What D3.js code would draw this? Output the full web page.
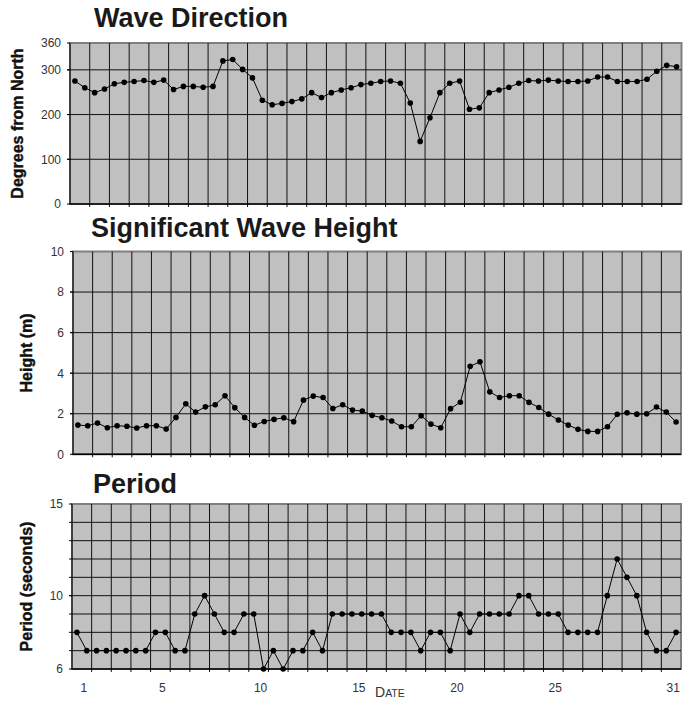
<!DOCTYPE html>
<html>
<head>
<meta charset="utf-8">
<script src="https://cdn.jsdelivr.net/npm/d3@7"></script>
<style>
  body { margin: 0; background: #fff; }
  text { font-family: "Liberation Sans", Arial, sans-serif; }
</style>
</head>
<body>
<div id="chart"></div>
<script>
// two readings a day (00h and 12h) over one month
const days = d3.range(1, 32);
const readings = days.flatMap(d => [d, d + 0.5]);

const waveDirection = [
  275, 260, 249, 257, 269, 272, 274, 276, 272, 277,
  256, 263, 263, 261, 263, 320, 323, 301, 282, 232,
  222, 225, 229, 235, 249, 238, 249, 255, 260, 267,
  270, 274, 275, 270, 226, 140, 193, 249, 270, 275,
  212, 215, 249, 255, 261, 270, 276, 275, 277, 275,
  274, 274, 275, 284, 284, 274, 274, 274, 279, 297,
  310, 307
];
const waveHeight = [
  1.44, 1.41, 1.54, 1.31, 1.41, 1.38, 1.30, 1.41, 1.41, 1.25,
  1.82, 2.49, 2.08, 2.34, 2.44, 2.89, 2.30, 1.82, 1.43, 1.62,
  1.72, 1.80, 1.61, 2.67, 2.87, 2.80, 2.26, 2.44, 2.18, 2.13,
  1.92, 1.80, 1.64, 1.36, 1.36, 1.90, 1.49, 1.31, 2.25, 2.57,
  4.34, 4.56, 3.08, 2.80, 2.89, 2.89, 2.56, 2.31, 1.98, 1.69,
  1.44, 1.23, 1.13, 1.13, 1.36, 1.97, 2.05, 1.98, 2.00, 2.33,
  2.08, 1.59
];
const wavePeriod = [
  8, 7, 7, 7, 7, 7, 7, 7, 8, 8,
  7, 7, 9, 10, 9, 8, 8, 9, 9, 6,
  7, 6, 7, 7, 8, 7, 9, 9, 9, 9,
  9, 9, 8, 8, 8, 7, 8, 8, 7, 9,
  8, 9, 9, 9, 9, 10, 10, 9, 9, 9,
  8, 8, 8, 8, 10, 12, 11, 10, 8, 7,
  7, 8
];

const dayLabels = [1, 5, 10, 15, 20, 25, 31];
const directionTicks = [0, 100, 200, 300, 360];
const heightTicks = [0, 2, 4, 6, 8, 10];
const periodTicks = [6, 10, 15];
const directionGrid = [100, 200, 300];
const heightGrid = [2, 4, 6, 8];
const periodGrid = [7, 8, 9, 10, 11, 12, 13, 14];

const width = 685, height = 710;

const svg = d3.select("#chart").append("svg")
    .attr("width", width)
    .attr("height", height);

function drawPanel(p) {
    const x = d3.scaleLinear().domain([0.75, 31.75]).range([p.left, p.right]);
    const y = d3.scaleLinear().domain(p.domain).range([p.bottom, p.top]);
    const g = svg.append("g");

    // title
    svg.append("text")
        .attr("x", p.titleX)
        .attr("y", p.titleY)
        .style("font-size", "27px")
        .style("font-weight", "bold")
        .attr("fill", "#1a1a1a")
        .text(p.title);

    // plot area
    g.append("rect")
        .attr("x", p.left)
        .attr("y", p.top)
        .attr("width", p.right - p.left)
        .attr("height", p.bottom - p.top)
        .attr("fill", "#c0c0c0")
        .attr("stroke", "#808080")
        .attr("stroke-width", 2);

    // vertical grid at each day boundary
    const dayEdges = days.slice(0, -1).map(d => d + 0.75);
    g.selectAll(".vgrid").data(dayEdges).join("line")
        .attr("x1", d => x(d)).attr("x2", d => x(d))
        .attr("y1", p.top).attr("y2", p.bottom + 3)
        .attr("stroke", "#111")
        .attr("stroke-width", 1);

    g.selectAll(".hgrid").data(p.grid).join("line")
        .attr("x1", p.left - 3).attr("x2", p.right)
        .attr("y1", d => y(d)).attr("y2", d => y(d))
        .attr("stroke", "#111")
        .attr("stroke-width", 1);

    // axes lines
    g.append("line")
        .attr("x1", p.left).attr("x2", p.left)
        .attr("y1", p.top).attr("y2", p.bottom)
        .attr("stroke", "#000");
    g.append("line")
        .attr("x1", p.left).attr("x2", p.right)
        .attr("y1", p.bottom).attr("y2", p.bottom)
        .attr("stroke", "#000")
        .attr("stroke-width", 1.5);
    g.selectAll(".ytickmark").data(p.ticks).join("line")
        .attr("x1", p.left - 3).attr("x2", p.left)
        .attr("y1", d => y(d)).attr("y2", d => y(d))
        .attr("stroke", "#000");

    // y tick labels
    g.selectAll(".ylabel").data(p.ticks).join("text")
        .attr("x", p.left - 9)
        .attr("y", d => y(d))
        .attr("dy", "0.36em")
        .attr("text-anchor", "end")
        .style("font-size", "12px")
        .attr("fill", "#333")
        .text(d => d);

    // y axis title
    svg.append("text")
        .attr("transform", "translate(" + p.labelX + "," + ((p.top + p.bottom) / 2) + ") rotate(-90)")
        .attr("text-anchor", "middle")
        .attr("dy", "0.35em")
        .style("font-size", "16px")
        .style("font-weight", "bold")
        .attr("fill", "#111")
        .attr("stroke", "#111")
        .attr("stroke-width", 0.4)
        .text(p.label);

    // series
    const line = d3.line()
        .x((d, i) => x(readings[i]))
        .y(d => y(d));
    g.append("path")
        .datum(p.values)
        .attr("d", line)
        .attr("fill", "none")
        .attr("stroke", "#000")
        .attr("stroke-width", 1);
    g.selectAll(".pt").data(p.values).join("circle")
        .attr("cx", (d, i) => x(readings[i]))
        .attr("cy", d => y(d))
        .attr("r", 2.8)
        .attr("fill", "#000");

    return x;
}

drawPanel({
    title: "Wave Direction", titleX: 94, titleY: 27,
    label: "Degrees from North", labelX: 17,
    top: 43, bottom: 204, left: 70, right: 681.5,
    domain: [0, 360], ticks: directionTicks, grid: directionGrid,
    values: waveDirection
});

drawPanel({
    title: "Significant Wave Height", titleX: 91, titleY: 237,
    label: "Height (m)", labelX: 26,
    top: 251.5, bottom: 454.3, left: 73, right: 681,
    domain: [0, 10], ticks: heightTicks, grid: heightGrid,
    values: waveHeight
});

const xBottom = drawPanel({
    title: "Period", titleX: 93, titleY: 493,
    label: "Period (seconds)", labelX: 26,
    top: 504, bottom: 669, left: 72, right: 681,
    domain: [6, 15], ticks: periodTicks, grid: periodGrid,
    values: wavePeriod
});

// day labels
svg.selectAll(".daylabel").data(dayLabels).join("text")
    .attr("x", d => xBottom(d + 0.35))
    .attr("y", 692)
    .attr("text-anchor", "middle")
    .style("font-size", "12px")
    .attr("fill", "#333")
    .text(d => d);

const dateLabel = svg.append("text")
    .attr("x", 375)
    .attr("y", 697)
    .attr("fill", "#333");
dateLabel.append("tspan").style("font-size", "14px").text("D");
dateLabel.append("tspan").style("font-size", "10.5px").text("ATE");
</script>
</body>
</html>
